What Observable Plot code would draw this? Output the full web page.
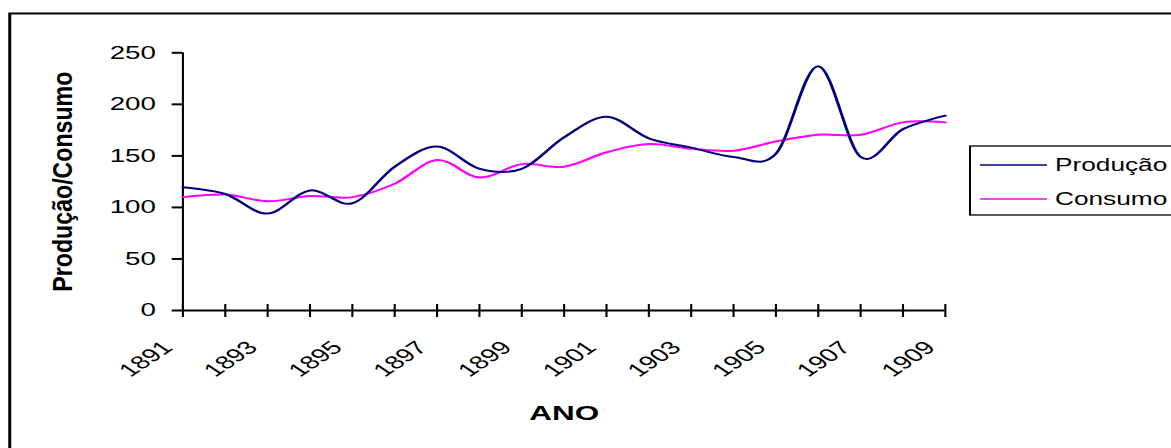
<!DOCTYPE html>
<html>
<head>
<meta charset="utf-8">
<script src="https://cdn.jsdelivr.net/npm/d3@7"></script>
<script src="https://cdn.jsdelivr.net/npm/@observablehq/plot@0.6"></script>
<style>
  html, body { margin: 0; padding: 0; background: #fff; overflow: hidden; }
  #chart { width: 1171px; height: 448px; }
</style>
</head>
<body>
<div id="chart"></div>
<script>
// ---- data ----
const anos = [1891, 1892, 1893, 1894, 1895, 1896, 1897, 1898, 1899, 1900,
              1901, 1902, 1903, 1904, 1905, 1906, 1907, 1908, 1909];
const producao = [119.5, 113, 94, 116.5, 104, 139.5, 159, 137.5, 137.5, 168,
                  188, 167, 158, 149, 152, 237, 149, 176, 189];
const consumo = [110, 112.5, 106, 111, 110, 123, 146, 129, 142, 139.5,
                 153.5, 161.5, 157, 155, 164, 170.5, 170.5, 182.5, 182.5];
const anosRotulo = [1891, 1893, 1895, 1897, 1899, 1901, 1903, 1905, 1907, 1909];
const yTicks = [0, 50, 100, 150, 200, 250];
const seriesNomes = ["Produção", "Consumo"];
const seriesCores = ["#000080", "#ff00ff"];

const prodData = anos.map((a, i) => ({ano: a, valor: producao[i]}));
const consData = anos.map((a, i) => ({ano: a, valor: consumo[i]}));

// logical drawing width (the picture is horizontally stretched)
const W = 781, H = 448, OUTW = 1171;
const s = OUTW / W;
const font = "'Liberation Sans', Arial, sans-serif";

const chart = Plot.plot({
  width: W, height: H,
  marginLeft: 121.5, marginRight: 151, marginTop: 52.3, marginBottom: 138,
  x: {type: "linear", domain: [anos[0], anos[anos.length - 1]]},
  y: {domain: [0, 250]},
  style: {fontFamily: font, background: "white", color: "black", overflow: "visible"},
  marks: [
    Plot.ruleX([anos[0]], {stroke: "black", strokeWidth: 1.4}),
    Plot.ruleY([0], {stroke: "black", strokeWidth: 2}),
    Plot.axisY(yTicks, {tickSize: 7, tickPadding: 11, fontSize: 18.5, strokeWidth: 2, label: null, tickFormat: d => String(d)}),
    Plot.axisX(anos, {tickSize: 13, dy: -6, tickFormat: () => "", strokeWidth: 1.4, label: null}),
    Plot.axisX(anosRotulo, {tickSize: 0, tickPadding: 34, tickRotate: -45, fontSize: 18.5, label: null, tickFormat: d => String(d)}),
    Plot.line(consData, {x: "ano", y: "valor", stroke: seriesCores[1], strokeWidth: 2, curve: "cardinal"}),
    Plot.line(prodData, {x: "ano", y: "valor", stroke: seriesCores[0], strokeWidth: 2, curve: "cardinal"}),
    Plot.text(["ANO"], {text: d => d, frameAnchor: "bottom", dy: 103, lineAnchor: "middle", fontWeight: "bold", fontSize: 21}),
    Plot.text(["Produção/Consumo"], {text: d => d, frameAnchor: "left", textAnchor: "middle", lineAnchor: "middle", rotate: -90, dx: -80, fontWeight: "bold", fontSize: 18, className: "ytitle"})
  ]
});

// stretch horizontally like the reference
chart.setAttribute("width", OUTW);
chart.setAttribute("height", H);
chart.setAttribute("viewBox", `0 0 ${W} ${H}`);
chart.setAttribute("preserveAspectRatio", "none");
chart.style.maxWidth = "none";
chart.style.width = OUTW + "px";
chart.style.height = H + "px";

const yt = chart.querySelector(".ytitle text");
if (yt) { yt.setAttribute("textLength", 220); yt.setAttribute("lengthAdjust", "spacingAndGlyphs"); }

// tick label sizes
chart.querySelectorAll('g[aria-label="y-axis tick label"]').forEach(g => {
  g.setAttribute("font-size", 18.5);
  g.querySelectorAll("text").forEach(t => { t.style.fontSize = "18.5px"; });
});
chart.querySelectorAll('g[aria-label="x-axis tick label"]').forEach(g => {
  const texts = [...g.querySelectorAll("text")];
  if (texts.some(t => t.textContent.trim() !== "")) {
    g.setAttribute("font-size", 18.5);
    texts.forEach(t => { t.style.fontSize = "18.5px"; });
    const tr = g.getAttribute("transform") || "";
    g.setAttribute("transform", "translate(-10,0) " + tr);
  }
});

const svg = d3.select(chart);
// outer chart border (top/left visible)
svg.insert("rect", ":first-child")
  .attr("x", 6.5).attr("y", 13.5).attr("width", 1000).attr("height", 1000)
  .attr("fill", "none").attr("stroke", "black").attr("stroke-width", 2);

// legend
const lg = svg.append("g").attr("font-family", font).attr("text-anchor", "start");
lg.append("rect")
  .attr("x", 970 / s).attr("y", 146).attr("width", 200).attr("height", 69)
  .attr("fill", "white").attr("stroke", "black").attr("stroke-width", 1.3);
seriesNomes.forEach((nome, i) => {
  const yy = 165 + i * 34;
  lg.append("line")
    .attr("x1", 980 / s).attr("x2", 1047 / s).attr("y1", yy).attr("y2", yy)
    .attr("stroke", seriesCores[i]).attr("stroke-width", 1.3);
  lg.append("text")
    .attr("x", 1055 / s).attr("y", yy).attr("dy", "0.35em")
    .attr("text-anchor", "start")
    .attr("font-size", 17.5).attr("fill", "black").text(nome);
});

document.getElementById("chart").appendChild(chart);
</script>
</body>
</html>
